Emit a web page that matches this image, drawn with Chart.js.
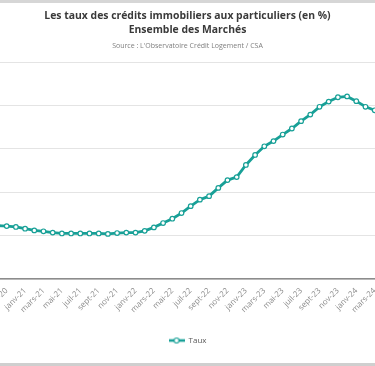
<!DOCTYPE html>
<html><head><meta charset="utf-8">
<script src="https://cdn.jsdelivr.net/npm/chart.js@4"></script>
<style>
html,body{margin:0;padding:0;background:#fff;}
#wrap{position:relative;width:375px;height:366px;overflow:hidden;background:#fff;}
#box{position:absolute;left:-40px;top:0;width:455px;height:362px;}
#topbar{position:absolute;left:0;top:0;width:375px;height:3px;background:#d6d6d6;}
#botbar{position:absolute;left:0;top:363px;width:375px;height:3px;background:#cfcfcf;}
</style></head><body>
<div id="wrap"><div id="box"><canvas id="c"></canvas></div><div id="topbar"></div><div id="botbar"></div></div>
<script>
const months = ["oct-20","nov-20","déc-20",
  "janv-21","févr-21","mars-21","avr-21","mai-21","juin-21","juil-21","août-21","sept-21","oct-21","nov-21","déc-21",
  "janv-22","févr-22","mars-22","avr-22","mai-22","juin-22","juil-22","août-22","sept-22","oct-22","nov-22","déc-22",
  "janv-23","févr-23","mars-23","avr-23","mai-23","juin-23","juil-23","août-23","sept-23","oct-23","nov-23","déc-23",
  "janv-24","févr-24","mars-24","avr-24"];
const taux = [1.23,1.22,1.20,
  1.16,1.12,1.10,1.07,1.05,1.05,1.05,1.05,1.05,1.04,1.06,1.07,
  1.07,1.11,1.19,1.29,1.39,1.52,1.68,1.83,1.91,2.10,2.28,2.35,
  2.63,2.86,3.06,3.18,3.33,3.47,3.64,3.79,3.97,4.09,4.19,4.21,
  4.10,3.97,3.89,3.80];
const yMin = 0, yMax = 5, yStep = 1;
const titleLines = ["Les taux des crédits immobiliers aux particuliers (en %)", "Ensemble des Marchés"];
const sourceText = "Source : L'Observatoire Crédit Logement / CSA";
const seriesName = "Taux";

const TEAL = '#18a097';
const mk = document.createElement('canvas');
mk.width = 16; mk.height = 8;
(function(){
  const g = mk.getContext('2d');
  g.strokeStyle = TEAL; g.lineWidth = 2.6;
  g.beginPath(); g.moveTo(0,4); g.lineTo(16,4); g.stroke();
  g.beginPath(); g.arc(8,4,2.5,0,Math.PI*2); g.fillStyle='#fff'; g.fill();
  g.lineWidth = 1.2; g.stroke();
})();

new Chart(document.getElementById('c'), {
  type: 'line',
  data: {
    labels: months,
    datasets: [{
      label: seriesName,
      data: taux,
      borderColor: TEAL,
      backgroundColor: '#fff',
      borderWidth: 2.8,
      pointRadius: 2.3,
      pointBorderWidth: 1.2,
      pointBackgroundColor: '#fff',
      pointBorderColor: TEAL,
      tension: 0
    }]
  },
  options: {
    responsive: true,
    maintainAspectRatio: false,
    animation: false,
    layout: { padding: { left: 31.1, right: 31.1, top: 0, bottom: 7.5 } },
    plugins: {
      title: {
        display: true, text: titleLines, color: '#3a3a3a',
        font: { family: 'Open Sans', size: 10.4, weight: 'bold', lineHeight: 1.3 },
        padding: { top: 9.7, bottom: 0 }
      },
      subtitle: {
        display: true, text: sourceText, color: '#7f7f7f',
        font: { family: 'Open Sans', size: 7, lineHeight: 1.2 },
        padding: { top: 5.1, bottom: 11.9 }
      },
      legend: {
        position: 'bottom',
        labels: {
          usePointStyle: true, pointStyleWidth: 16, boxHeight: 8, padding: 6,
          color: '#595959', font: { family: 'Open Sans', size: 8 },
          generateLabels(chart) {
            const items = Chart.defaults.plugins.legend.labels.generateLabels(chart);
            items.forEach(it => { it.pointStyle = mk; });
            return items;
          }
        }
      },
      tooltip: { enabled: false }
    },
    scales: {
      x: {
        type: 'category', offset: false,
        grid: { display: false, drawTicks: false },
        border: { display: true, color: '#8c8c8c', width: 1.5 },
        ticks: {
          autoSkip: false, minRotation: 45, maxRotation: 45, padding: 7,
          color: '#8a8a8a', font: { family: 'Open Sans', size: 8 },
          callback: (v, i) => (i % 2 === 1 ? months[i] : '')
        },
        afterFit(s) { s.height = 51.5; }
      },
      y: {
        min: yMin, max: yMax,
        ticks: { stepSize: yStep, color: '#8a8a8a', font: { family: 'Open Sans', size: 8 } },
        grid: { color: '#e4e4e4', lineWidth: 1, drawTicks: false },
        border: { display: false },
        afterFit(s) { s.width = 6.4; }
      }
    }
  }
});
</script>
</body></html>
